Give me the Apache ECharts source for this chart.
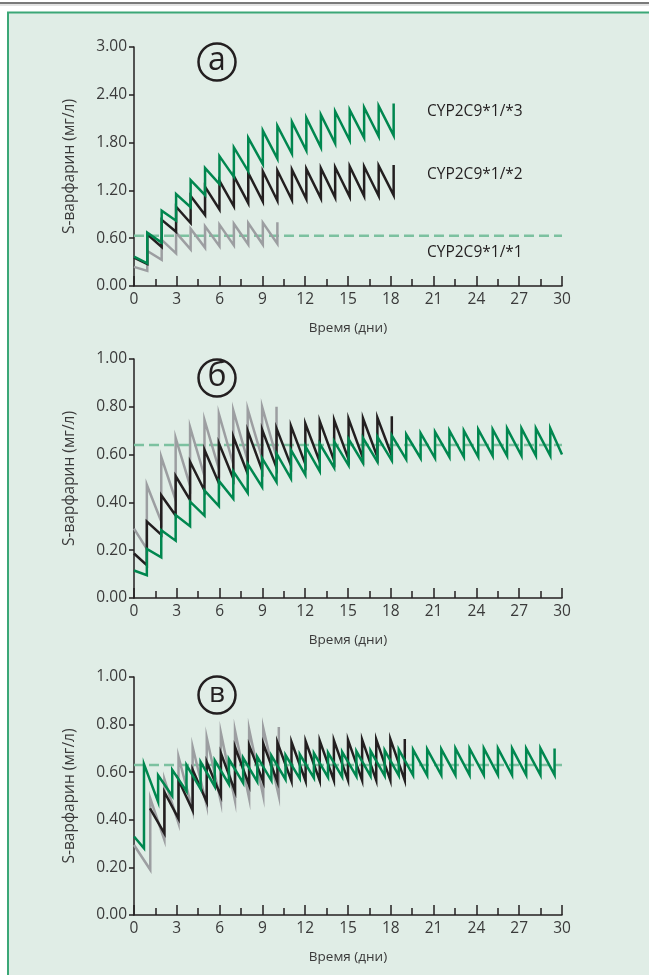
<!DOCTYPE html>
<html><head><meta charset="utf-8">
<script src="https://cdn.jsdelivr.net/npm/echarts@6/dist/echarts.min.js"></script>
<style>html,body{margin:0;padding:0;background:#fff}#c{width:649px;height:975px}</style>
</head><body><div id="c"></div><script>
// ---------- axis ticks ----------
const xTicks = [0, 3, 6, 9, 12, 15, 18, 21, 24, 27, 30];
const yTicksA = [0, 0.6, 1.2, 1.8, 2.4, 3.0];
const yTicksBC = [0, 0.2, 0.4, 0.6, 0.8, 1.0];
const panelLetters = ['a', 'б', 'в'];
const seriesNames = ['CYP2C9*1/*3', 'CYP2C9*1/*2', 'CYP2C9*1/*1'];
const targetLevels = [0.63, 0.64, 0.63];

// ---------- panel a ----------
const daysA = [0.93, 1.94, 2.95, 3.97, 4.98, 5.99, 7.0, 8.01, 9.03, 10.05, 11.07, 12.08, 13.1, 14.1, 15.12, 16.13, 17.15, 18.2];
const daysA11 = [0.93, 1.94, 2.95, 3.97, 4.98, 5.99, 7.0, 8.01, 9.03, 10.05];
const a13Start = [0, 0.37];
const a13Trough = [0.285, 0.545, 0.82, 0.99, 1.14, 1.28, 1.37, 1.44, 1.53, 1.6, 1.66, 1.7, 1.74, 1.79, 1.83, 1.86, 1.88, 1.89];
const a13Peak = [0.67, 0.945, 1.155, 1.33, 1.48, 1.63, 1.74, 1.86, 1.95, 2.01, 2.06, 2.11, 2.15, 2.19, 2.21, 2.24, 2.26, 2.29];
const a12Start = [0, 0.355];
const a12Trough = [0.276, 0.49, 0.68, 0.79, 0.89, 0.96, 1.0, 1.04, 1.06, 1.07, 1.08, 1.09, 1.10, 1.11, 1.12, 1.13, 1.13, 1.14];
const a12Peak = [0.65, 0.83, 0.995, 1.13, 1.245, 1.32, 1.38, 1.42, 1.44, 1.45, 1.46, 1.47, 1.48, 1.49, 1.50, 1.50, 1.51, 1.52];
const a11Start = [0, 0.24];
const a11Trough = [0.19, 0.33, 0.41, 0.46, 0.48, 0.5, 0.51, 0.52, 0.52, 0.53];
const a11Peak = [0.44, 0.58, 0.67, 0.72, 0.75, 0.77, 0.78, 0.79, 0.795, 0.8];

// ---------- panel б ----------
const daysB = [0.9, 1.91, 2.92, 3.93, 4.94, 5.95, 6.96, 7.97, 8.98, 9.99, 11.0, 12.01, 13.02, 14.03, 15.04, 16.05, 17.06, 18.07, 19.08, 20.09, 21.1, 22.11, 23.12, 24.13, 25.14, 26.15, 27.16, 28.17, 29.18];
const daysB12 = [0.9, 1.91, 2.92, 3.93, 4.94, 5.95, 6.96, 7.97, 8.98, 9.99, 11.0, 12.01, 13.02, 14.03, 15.04, 16.05, 17.06, 18.07];
const daysB11 = [0.9, 1.91, 2.92, 3.93, 4.94, 5.95, 6.96, 7.97, 8.98, 9.99];
const b13Start = [0, 0.115];
const b13Trough = [0.095, 0.17, 0.24, 0.30, 0.345, 0.385, 0.415, 0.44, 0.465, 0.485, 0.50, 0.515, 0.53, 0.545, 0.555, 0.565, 0.57, 0.575, 0.58, 0.585, 0.585, 0.59, 0.59, 0.59, 0.595, 0.595, 0.595, 0.595, 0.595];
const b13Peak = [0.205, 0.284, 0.347, 0.403, 0.45, 0.49, 0.53, 0.56, 0.585, 0.605, 0.62, 0.635, 0.645, 0.655, 0.665, 0.67, 0.675, 0.68, 0.685, 0.69, 0.695, 0.70, 0.70, 0.705, 0.705, 0.71, 0.71, 0.71, 0.71];
const b13End = [30, 0.6];
const b12Start = [0, 0.186];
const b12Trough = [0.137, 0.265, 0.345, 0.41, 0.45, 0.48, 0.50, 0.52, 0.535, 0.545, 0.555, 0.56, 0.57, 0.575, 0.58, 0.585, 0.59, 0.595];
const b12Peak = [0.32, 0.43, 0.51, 0.57, 0.62, 0.648, 0.675, 0.70, 0.705, 0.71, 0.72, 0.73, 0.74, 0.745, 0.75, 0.752, 0.755, 0.76];
const b11Start = [0, 0.29];
const b11Trough = [0.205, 0.32, 0.41, 0.47, 0.51, 0.54, 0.56, 0.575, 0.585, 0.59];
const b11Peak = [0.473, 0.59, 0.67, 0.715, 0.745, 0.77, 0.785, 0.79, 0.80, 0.80];

// ---------- panel в ----------
const daysC13 = [0.7, 1.69, 2.68, 3.68, 4.67, 5.66, 6.65, 7.65, 8.64, 9.63, 10.62, 11.62, 12.61, 13.6, 14.59, 15.59, 16.58, 17.57, 18.56, 19.56, 20.55, 21.54, 22.53, 23.52, 24.52, 25.51, 26.5, 27.49, 28.49, 29.48];
const c13Start = [0, 0.33];
const c13Trough = [0.28, 0.475, 0.50, 0.52, 0.53, 0.54, 0.55, 0.555, 0.56, 0.565, 0.57, 0.573, 0.576, 0.578, 0.58, 0.582, 0.584, 0.585, 0.586, 0.587, 0.587, 0.588, 0.588, 0.588, 0.588, 0.588, 0.588, 0.588, 0.588, 0.588];
const c13Peak = [0.634, 0.587, 0.61, 0.63, 0.643, 0.65, 0.655, 0.66, 0.665, 0.67, 0.672, 0.675, 0.68, 0.682, 0.685, 0.688, 0.69, 0.692, 0.695, 0.695, 0.697, 0.697, 0.7, 0.7, 0.7, 0.7, 0.7, 0.7, 0.7, 0.7];
const daysC12 = [2.13, 3.12, 4.11, 5.1, 6.09, 7.08, 8.07, 9.06, 10.05, 11.04, 12.03, 13.02, 14.01, 15.0, 15.99, 16.98, 17.97, 18.98];
const c12Start = [1.12, 0.448];
const c12Trough = [0.343, 0.405, 0.44, 0.475, 0.50, 0.52, 0.545, 0.56, 0.56, 0.562, 0.563, 0.564, 0.565, 0.566, 0.566, 0.566, 0.566, 0.566];
const c12Peak = [0.517, 0.567, 0.61, 0.643, 0.68, 0.706, 0.713, 0.72, 0.725, 0.727, 0.73, 0.732, 0.734, 0.736, 0.737, 0.738, 0.739, 0.74];
const daysC11 = [1.14, 2.13, 3.12, 4.11, 5.1, 6.09, 7.08, 8.07, 9.06, 10.15];
const c11Start = [0, 0.294];
const c11Trough = [0.19, 0.315, 0.385, 0.44, 0.46, 0.475, 0.48, 0.49, 0.50, 0.50];
const c11Peak = [0.49, 0.57, 0.664, 0.706, 0.745, 0.765, 0.775, 0.78, 0.785, 0.79];

// ---------- build ----------
function saw(start, days, troughs, peaks, end) {
  const d = [start];
  days.forEach((t, i) => { d.push([t, troughs[i]]); d.push([t, peaks[i]]); });
  if (end) d.push(end);
  return d;
}
const GREEN = '#00874f', BLACK = '#231f20', GRAY = '#9c9ea1', DASH = '#7cc1a0';
const FONT = 'Open Sans';
const TXT = '#3a3a3a';
const grids = [
  {left: 134, top: 47, width: 428, height: 239},
  {left: 134, top: 359, width: 428, height: 239},
  {left: 134, top: 677, width: 428, height: 238}
];
function xAxis(i) {
  return {
    type: 'value', gridIndex: i, min: xTicks[0], max: xTicks[xTicks.length - 1], interval: 3,
    axisLine: {lineStyle: {color: BLACK, width: 1.5}},
    axisTick: {inside: true, length: 10, lineStyle: {color: BLACK, width: 1.5}},
    minorTick: {show: true, splitNumber: 2, length: 7, lineStyle: {color: BLACK, width: 1.5}},
    splitLine: {show: false},
    axisLabel: {color: TXT, fontSize: 15.5, fontFamily: FONT, margin: 6},
    name: 'Время (дни)', nameLocation: 'middle', nameGap: 35,
    nameTextStyle: {color: TXT, fontSize: 13.5, fontFamily: FONT}
  };
}
function yAxis(i, ticks) {
  return {
    type: 'value', gridIndex: i, min: ticks[0], max: ticks[ticks.length - 1], interval: ticks[1] - ticks[0],
    axisLine: {show: true, lineStyle: {color: BLACK, width: 1.5}},
    axisTick: {show: true, inside: false, length: 5, lineStyle: {color: BLACK, width: 1.5}},
    splitLine: {show: false},
    axisLabel: {color: TXT, fontSize: 15.5, fontFamily: FONT, margin: 7, formatter: v => v.toFixed(2)},
    name: 'S-варфарин (мг/л)', nameLocation: 'middle', nameGap: 56,
    nameTextStyle: {color: TXT, fontSize: 15.5, fontFamily: FONT}
  };
}
function line(i, data, color, dashed) {
  return {
    type: 'line', xAxisIndex: i, yAxisIndex: i, data: data, showSymbol: false, symbol: 'none',
    silent: true, animation: false,
    lineStyle: dashed ? {color: color, width: 2.4, type: [10, 5]} : {color: color, width: 2.5, join: 'miter'}
  };
}
const series = [];
// panel a
series.push(line(0, [[0, targetLevels[0]], [30, targetLevels[0]]], DASH, true));
series.push(line(0, saw(a11Start, daysA11, a11Trough, a11Peak), GRAY));
series.push(line(0, saw(a12Start, daysA, a12Trough, a12Peak), BLACK));
series.push(line(0, saw(a13Start, daysA, a13Trough, a13Peak), GREEN));
// panel б
series.push(line(1, [[0, targetLevels[1]], [30, targetLevels[1]]], DASH, true));
series.push(line(1, saw(b11Start, daysB11, b11Trough, b11Peak), GRAY));
series.push(line(1, saw(b12Start, daysB12, b12Trough, b12Peak), BLACK));
series.push(line(1, saw(b13Start, daysB, b13Trough, b13Peak, b13End), GREEN));
// panel в
series.push(line(2, [[0, targetLevels[2]], [30, targetLevels[2]]], DASH, true));
series.push(line(2, saw(c11Start, daysC11, c11Trough, c11Peak), GRAY));
series.push(line(2, saw(c12Start, daysC12, c12Trough, c12Peak), BLACK));
series.push(line(2, saw(c13Start, daysC13, c13Trough, c13Peak), GREEN));

const circleCenters = [[217, 62], [217, 378], [217, 695]];
const graphic = [
  {type: 'rect', z: -100, shape: {x: 0, y: 2, width: 649, height: 2}, style: {fill: '#7a7a7a'}},
  {type: 'rect', z: -100, shape: {x: 0, y: 4.5, width: 649, height: 1}, style: {fill: '#c8c8c8'}},
  {type: 'rect', z: -100, shape: {x: 8, y: 12.5, width: 700, height: 1000}, style: {fill: '#e0ede6', stroke: '#3ba777', lineWidth: 2}}
];
circleCenters.forEach((c, i) => {
  graphic.push({type: 'circle', z: 10, shape: {cx: c[0], cy: c[1], r: 18.5}, style: {fill: 'none', stroke: BLACK, lineWidth: 2.5}});
  graphic.push({type: 'text', z: 10, style: {text: panelLetters[i], x: c[0], y: c[1] - 1, align: 'center', verticalAlign: 'middle',
    fontSize: i === 2 ? 28 : 32, fontFamily: FONT, fill: BLACK}});
});
const labelPos = [[427, 112], [427, 175], [427, 253]];
seriesNames.forEach((n, i) => {
  graphic.push({type: 'text', z: 10, style: {text: n, x: labelPos[i][0], y: labelPos[i][1], align: 'left', verticalAlign: 'middle',
    fontSize: 15.5, fontFamily: FONT, fill: BLACK}});
});

const chart = echarts.init(document.getElementById('c'), null, {renderer: 'canvas'});
chart.setOption({
  backgroundColor: '#ffffff',
  animation: false,
  grid: grids.map(g => Object.assign({outerBoundsMode: 'none', containLabel: false}, g)),
  xAxis: [xAxis(0), xAxis(1), xAxis(2)],
  yAxis: [yAxis(0, yTicksA), yAxis(1, yTicksBC), yAxis(2, yTicksBC)],
  series: series,
  graphic: graphic
});
</script></body></html>
